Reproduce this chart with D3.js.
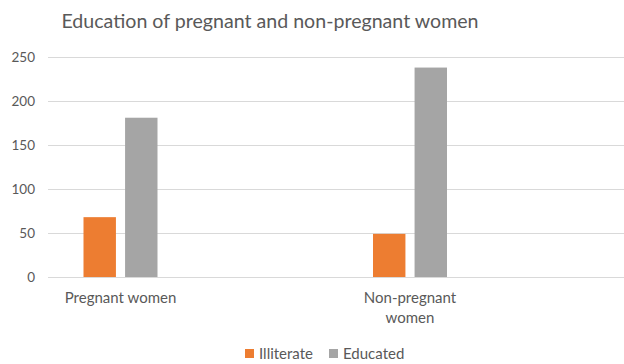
<!DOCTYPE html>
<html>
<head>
<meta charset="utf-8">
<script src="https://cdn.jsdelivr.net/npm/d3@7"></script>
<style>
  html, body { margin: 0; padding: 0; background: #fff; }
  svg { display: block; font-family: Lato, "Open Sans", sans-serif; }
</style>
</head>
<body>
<svg id="chart" width="624" height="364"></svg>
<script>
// Survey counts by pregnancy status
const categories = ["Pregnant women", "Non-pregnant women"];
const seriesNames = ["Illiterate", "Educated"];
const illiterate = [68, 49];
const educated = [181, 238];
const yTicks = [0, 50, 100, 150, 200, 250];
const colors = ["#ED7D31", "#A5A5A5"];

const svg = d3.select("#chart");
const plot = { left: 48, right: 624, top: 57, bottom: 277 };

const y = d3.scaleLinear().domain([0, 250]).range([plot.bottom, plot.top]);
const x = d3.scalePoint().domain(categories).range([120.5, 410]);
const xInner = d3.scaleBand().domain(seriesNames).range([-37, 37]).paddingInner(0.22);

// Title
svg.append("text")
  .attr("x", 270).attr("y", 28)
  .attr("text-anchor", "middle")
  .attr("fill", "#595959")
  .attr("font-size", 19.6)
  .text("Education of pregnant and non-pregnant women");

// Gridlines
svg.append("g")
  .selectAll("line")
  .data(yTicks)
  .join("line")
  .attr("x1", plot.left).attr("x2", plot.right)
  .attr("y1", d => Math.round(y(d)) + 0.5).attr("y2", d => Math.round(y(d)) + 0.5)
  .attr("stroke", "#D9D9D9").attr("stroke-width", 1.2);

// Y axis labels
const yAxis = d3.axisLeft(y).tickValues(yTicks).tickSize(0).tickPadding(0);
const gy = svg.append("g").attr("transform", "translate(35,0)").call(yAxis);
gy.select(".domain").remove();
gy.selectAll("text")
  .attr("fill", "#595959")
  .attr("font-size", 13.5)
  .attr("font-family", "Lato, 'Open Sans', sans-serif");

// Bars
const rows = categories.map((c, i) => ({ cat: c, values: [illiterate[i], educated[i]] }));
const groups = svg.append("g")
  .selectAll("g")
  .data(rows)
  .join("g")
  .attr("transform", d => `translate(${x(d.cat)},0)`);

groups.selectAll("rect")
  .data(d => d.values.map((v, j) => ({ name: seriesNames[j], v, j })))
  .join("rect")
  .attr("x", d => xInner(d.name))
  .attr("width", xInner.bandwidth())
  .attr("y", d => y(d.v))
  .attr("height", d => y(0) - y(d.v))
  .attr("fill", d => colors[d.j]);

// Category labels (wrapped like the axis does)
const catLines = { "Pregnant women": ["Pregnant women"], "Non-pregnant women": ["Non-pregnant", "women"] };
const gx = svg.append("g");
categories.forEach(c => {
  const t = gx.append("text")
    .attr("x", x(c)).attr("y", 303)
    .attr("text-anchor", "middle")
    .attr("fill", "#595959")
    .attr("font-size", 15);
  catLines[c].forEach((line, k) => {
    t.append("tspan").attr("x", x(c)).attr("dy", k === 0 ? 0 : 20).text(line);
  });
});

// Legend
const legend = svg.append("g").attr("transform", "translate(245,349)");
const legendX = [0, 84];
seriesNames.forEach((s, i) => {
  const g = legend.append("g").attr("transform", `translate(${legendX[i]},0)`);
  g.append("rect").attr("width", 9).attr("height", 9).attr("fill", colors[i]);
  g.append("text").attr("x", 14).attr("y", 10)
    .attr("fill", "#595959").attr("font-size", 15)
    .text(s);
});
</script>
</body>
</html>
